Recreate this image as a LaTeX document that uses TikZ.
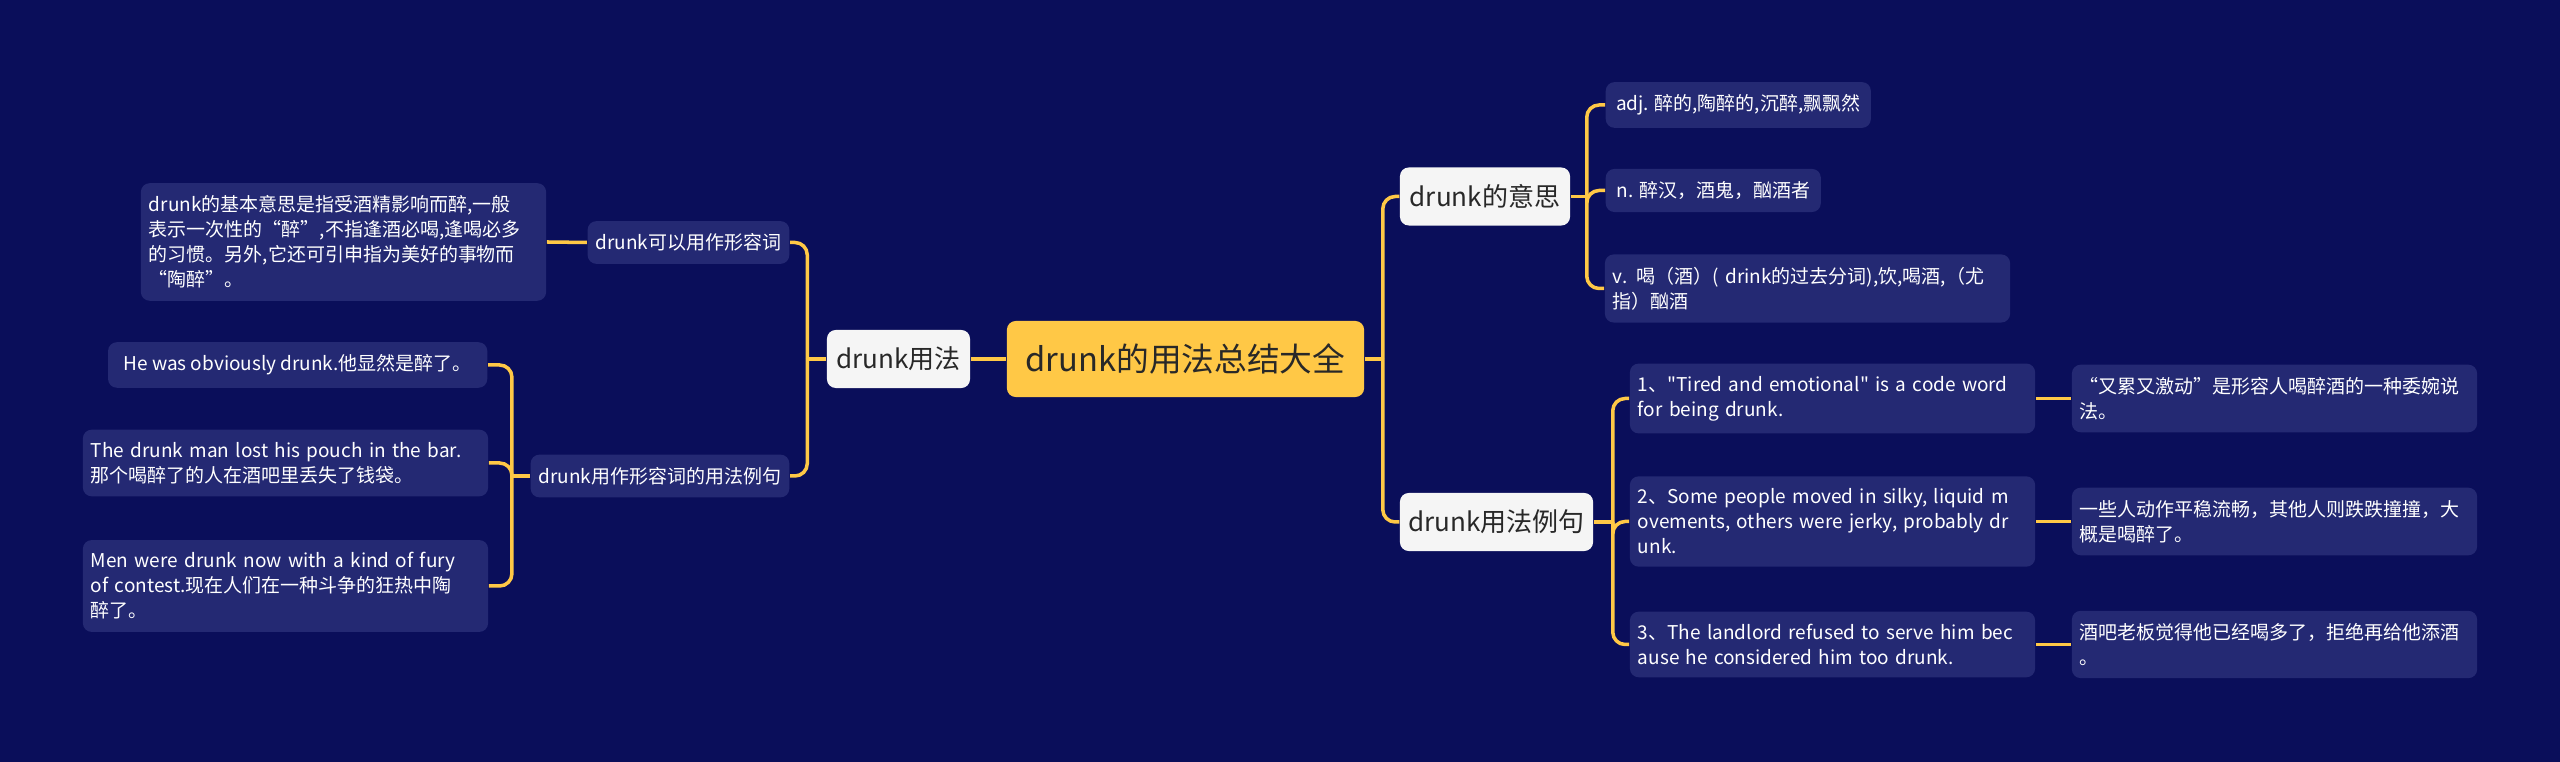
\documentclass[tikz,border=0pt]{standalone}
\usepackage{fontspec}
\setmainfont{Noto Sans CJK SC}[Ligatures=TeXOff]
\usepackage{tikz}

\definecolor{bgnavy}{RGB}{10,14,90}
\definecolor{leafblue}{RGB}{36,41,115}
\definecolor{linkyellow}{RGB}{255,200,70}
\definecolor{rootyellow}{RGB}{255,200,70}
\definecolor{rootink}{RGB}{40,40,40}
\definecolor{topicwhite}{RGB}{245,245,245}

\begin{document}
\begin{tikzpicture}[x=0.01cm, y=-0.01cm,
    root/.style={fill=rootyellow, text=rootink, rounded corners=2.5pt, inner sep=0pt,
        minimum width=3.57cm, minimum height=0.76cm, font=\fontsize{9.3}{11}\selectfont},
    topic/.style={fill=topicwhite, text=rootink, rounded corners=2.5pt, inner sep=0pt,
        minimum height=0.58cm, font=\fontsize{7.4}{9}\selectfont},
    leaf/.style={fill=leafblue, text=white, rounded corners=2.5pt, align=left,
        inner xsep=0.08cm, inner ysep=0.125cm, font=\fontsize{5.4}{7.1}\selectfont},
    link/.style={draw=linkyellow, line width=1pt, rounded corners=3.5pt}]

    % Background
    \fill[bgnavy] (0,0) rectangle (2560,762);

    % Root topic
    \node[root] (root) at (1185.5,359) {drunk的用法总结大全};

    % Left branch: usage
    \node[topic, minimum width=1.43cm] (usage) at (898.5,359) {drunk用法};
    \node[leaf, anchor=east] (adjuse) at (790,242.5) {drunk可以用作形容词};
    \node[leaf, text width=3.89cm] (adjnote) at (343.5,242) {drunk的基本意思是指受酒精影响而醉,一般\\表示一次性的“醉”,不指逢酒必喝,逢喝必多\\的习惯。另外,它还可引申指为美好的事物而\\“陶醉”。};
    \node[leaf, anchor=east] (adjex) at (790,476) {drunk用作形容词的用法例句};
    \node[leaf, anchor=east, minimum width=3.79cm] (exA) at (488,365) {He was obviously drunk.他显然是醉了。};
    \node[leaf, text width=3.89cm] (exB) at (285.5,463) {The drunk man lost his pouch in the bar.\\那个喝醉了的人在酒吧里丢失了钱袋。};
    \node[leaf, text width=3.89cm] (exC) at (285.5,586) {Men were drunk now with a kind of fury\\of contest.现在人们在一种斗争的狂热中陶\\醉了。};

    % Right branch: meaning
    \node[topic, minimum width=1.70cm] (meaning) at (1485,196.5) {drunk的意思};
    \node[leaf, anchor=west, minimum width=2.65cm] (adj) at (1605,105) {adj. 醉的,陶醉的,沉醉,飘飘然};
    \node[leaf, anchor=west, minimum width=2.15cm] (noun) at (1605,190.5) {n. 醉汉，酒鬼，酗酒者};
    \node[leaf, text width=3.89cm] (verb) at (1807.5,288.5) {v. 喝（酒）( drink的过去分词),饮,喝酒,（尤\\指）酗酒};

    % Right branch: sample sentences
    \node[topic, minimum width=1.93cm] (samples) at (1496.5,522) {drunk用法例句};
    \node[leaf, text width=3.89cm] (sentA) at (1832.5,398.5) {1、"Tired and emotional" is a code word\\for being drunk.};
    \node[leaf, text width=3.89cm] (sentB) at (1832.5,521.5) {2、Some people moved in silky, liquid m\\ovements, others were jerky, probably dr\\unk.};
    \node[leaf, text width=3.89cm] (sentC) at (1832.5,644.5) {3、The landlord refused to serve him bec\\ause he considered him too drunk.};
    \node[leaf, text width=3.89cm] (transA) at (2274.5,398.5) {“又累又激动”是形容人喝醉酒的一种委婉说\\法。};
    \node[leaf, text width=3.89cm] (transB) at (2274.5,521.5) {一些人动作平稳流畅，其他人则跌跌撞撞，大\\概是喝醉了。};
    \node[leaf, text width=3.89cm] (transC) at (2274.5,644.5) {酒吧老板觉得他已经喝多了，拒绝再给他添酒\\。};

    % Connectors
    \draw[link] (root.west) -- (usage.east);
    \draw[link] (root.east) -- ++(18,0) coordinate (rootj);
    \draw[link] (rootj) |- (meaning.west);
    \draw[link] (rootj) |- (samples.west);

    \draw[link] (usage.west) -- ++(-19,0) coordinate (usagej);
    \draw[link] (usagej) |- (adjuse.east);
    \draw[link] (usagej) |- (adjex.east);
    \draw[link] (adjuse.west) -- (adjnote.east);
    \draw[link] (adjex.west) -- ++(-18,0) coordinate (adjexj);
    \foreach \n in {exA,exB,exC}
        \draw[link] (adjexj) |- (\n.east);

    \draw[link] (meaning.east) -- ++(16,0) coordinate (meaningj);
    \foreach \n in {adj,noun,verb}
        \draw[link] (meaningj) |- (\n.west);

    \draw[link] (samples.east) -- ++(19,0) coordinate (samplesj);
    \foreach \n in {sentA,sentB,sentC}
        \draw[link] (samplesj) |- (\n.west);
    \draw[link] (sentA.east) -- (transA.west);
    \draw[link] (sentB.east) -- (transB.west);
    \draw[link] (sentC.east) -- (transC.west);
\end{tikzpicture}
\end{document}
